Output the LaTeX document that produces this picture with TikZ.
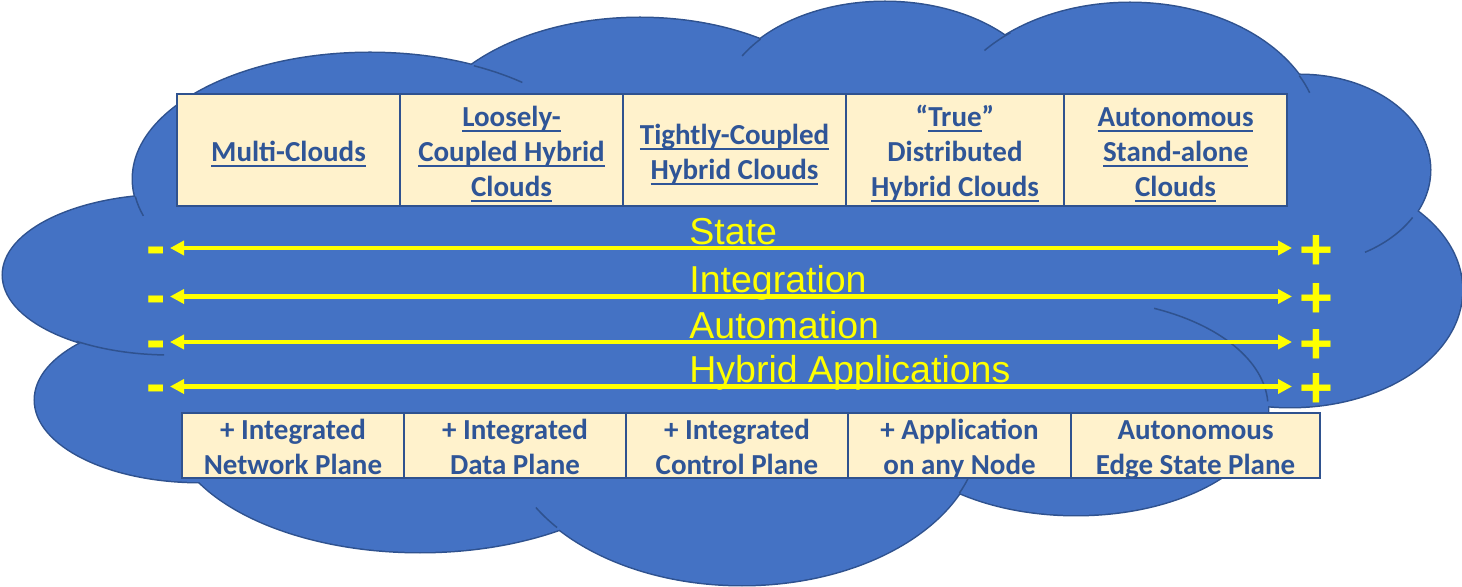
\documentclass[tikz,border=0pt]{standalone}
\usepackage{fontspec}
\setmainfont{Carlito}
\newfontfamily\arialf{Liberation Sans}
\usetikzlibrary{arrows.meta}
\definecolor{cloudfill}{HTML}{4472C4}
\definecolor{cloudline}{HTML}{2F528F}
\definecolor{cream}{HTML}{FFF2CC}
\definecolor{tabline}{HTML}{2F528F}
\definecolor{tabtext}{HTML}{2F5597}
\definecolor{ylw}{HTML}{FFFF00}
\newsavebox\ulbox
\newcommand\myul[1]{\leavevmode\sbox\ulbox{#1}\rlap{\rule[-2.6pt]{\wd\ulbox}{0.9pt}}\usebox\ulbox}
\newcommand\fst{\rule{0pt}{12.8pt}}
\newcommand\lst{\rule[-4pt]{0pt}{4pt}}
\newcommand\mytabfont{\fontsize{14.5}{17.5}\selectfont\bfseries}
\newcommand\lobe[4]{(#1,#2) ellipse [x radius=#3*0.5pt, y radius=#4*0.5pt]}
\newcommand\inarc[6]{\draw[innerarc] (#1,#2) ++(#5:#3*0.5pt and #4*0.5pt) arc [start angle=#5, end angle=#6, x radius=#3*0.5pt, y radius=#4*0.5pt];}
\begin{document}
\begin{tikzpicture}[x=0.5pt,y=-0.5pt,
  lobeout/.style={draw=cloudline, line width=1.5pt, fill=cloudfill},
  lobefill/.style={fill=cloudfill},
  innerarc/.style={draw=cloudline, line width=0.75pt},
  cellbox/.style={draw=tabline, line width=0.75pt, fill=cream, inner sep=0pt},
  cellT/.style={cellbox, minimum height=56pt},
  cellB/.style={cellbox, minimum height=32.5pt},
  celltext/.style={inner sep=0pt, align=center, text=tabtext, font=\mytabfont, yshift=-1.6pt},
  yarrow/.style={draw=ylw, line width=2.25pt, {Triangle[length=7pt,width=7pt]}-{Triangle[length=7pt,width=7pt]}},
  ylabel/.style={text=ylw, font=\arialf\fontsize{18.75}{22}\selectfont, inner sep=0pt, anchor=base west},
  sign/.style={text=ylw, font=\arialf\bfseries\fontsize{29}{30}\selectfont, inner sep=0pt, text height=17pt, text depth=0pt, anchor=base}]
\useasboundingbox (0,0) rectangle (1462,587);
% cloud: outlined lobes
\foreach \cx/\cy/\rx/\ry in {370/179/237/126, 640/150/220/132, 885/110/165/108, 1130/136/190/133, 1300/170/130/95, 1290/290/172/117, 1076/407/192/108, 742/430/238/155, 420/420/250/132, 200/400/165/82, 170/275/167/80}
  {\path[lobeout] \lobe{\cx}{\cy}{\rx}{\ry};}
% cloud: cover inner outlines
\foreach \cx/\cy/\rx/\ry in {370/179/237/126, 640/150/220/132, 885/110/165/108, 1130/136/190/133, 1300/170/130/95, 1290/290/172/117, 1076/407/192/108, 742/430/238/155, 420/420/250/132, 200/400/165/82, 170/275/167/80, 730/270/450/160}
  {\path[lobefill] \lobe{\cx}{\cy}{\rx}{\ry};}
% inner arcs of the cloud
\inarc{370}{179}{237}{126}{64}{50}
\inarc{370}{179}{237}{126}{188}{197}
\inarc{885}{110}{165}{108}{139}{150}
\inarc{1130}{136}{190}{133}{129}{140}
\inarc{1130}{136}{190}{133}{27}{19}
\inarc{1300}{170}{130}{95}{-30}{-60}
\inarc{1076}{407}{192}{108}{66}{3}
\inarc{170}{275}{167}{80}{236}{268}
\inarc{742}{430}{238}{155}{219}{210}
\inarc{742}{430}{238}{155}{-24}{-12}
% top table
\node[cellT, minimum width=111.5pt] (t1) at (288.5,150) {};
\node[cellT, minimum width=111.5pt] (t2) at (511.5,150) {};
\node[cellT, minimum width=111.5pt] (t3) at (734.5,150) {};
\node[cellT, minimum width=109pt] (t4) at (955,150) {};
\node[cellT, minimum width=111.5pt] (t5) at (1175.5,150) {};
\node[celltext] (t1x) at (t1.center) {\fst\myul{Multi-Clouds}\lst};
\node[celltext] (t2x) at (t2.center) {\fst\myul{Loosely-}\\\myul{Coupled Hybrid}\\\myul{Clouds}\lst};
\node[celltext] (t3x) at (t3.center) {\fst\myul{Tightly-Coupled}\\\myul{Hybrid Clouds}\lst};
\node[celltext] (t4x) at (t4.center) {\fst“\myul{True}”\\Distributed\\\myul{Hybrid Clouds}\lst};
\node[celltext] (t5x) at (t5.center) {\fst\myul{Autonomous}\\\myul{Stand-alone}\\\myul{Clouds}\lst};
% bottom table
\node[cellB, minimum width=111pt] (b1) at (293,445.5) {};
\node[cellB, minimum width=111pt] (b2) at (515,445.5) {};
\node[cellB, minimum width=111pt] (b3) at (737,445.5) {};
\node[cellB, minimum width=111.5pt] (b4) at (959.5,445.5) {};
\node[cellB, minimum width=124.5pt] (b5) at (1195.5,445.5) {};
\node[celltext] (b1x) at (b1.center) {\fst+ Integrated\\Network Plane\lst};
\node[celltext] (b2x) at (b2.center) {\fst+ Integrated\\Data Plane\lst};
\node[celltext] (b3x) at (b3.center) {\fst+ Integrated\\Control Plane\lst};
\node[celltext] (b4x) at (b4.center) {\fst+ Application\\on any Node\lst};
\node[celltext] (b5x) at (b5.center) {\fst Autonomous\\Edge State Plane\lst};
% arrows
\coordinate (s1) at (170,248);   \coordinate (e1) at (1292,248);
\coordinate (s2) at (170,296.5); \coordinate (e2) at (1292,296.5);
\coordinate (s3) at (170,342);   \coordinate (e3) at (1292,342);
\coordinate (s4) at (170,386.5); \coordinate (e4) at (1292,386.5);
\draw[yarrow] (s1) -- (e1);
\draw[yarrow] (s2) -- (e2);
\draw[yarrow] (s3) -- (e3);
\draw[yarrow] (s4) -- (e4);
% labels
\node[ylabel] (l1) at (689,245) {State};
\node[ylabel] (l2) at (689,293) {Integration};
\node[ylabel] (l3) at (689,339) {Automation};
\node[ylabel] (l4) at (689,383) {Hybrid Applications};
% signs
\node[sign] (m1) at (156.5,265.5) {-};
\node[sign] (m2) at (156.5,314.5) {-};
\node[sign] (m3) at (156.5,359.5) {-};
\node[sign] (m4) at (156.5,404) {-};
\node[sign] (p1) at (1316,269.5) {+};
\node[sign] (p2) at (1316,318) {+};
\node[sign] (p3) at (1316,363.5) {+};
\node[sign] (p4) at (1316,408) {+};
\end{tikzpicture}
\end{document}
